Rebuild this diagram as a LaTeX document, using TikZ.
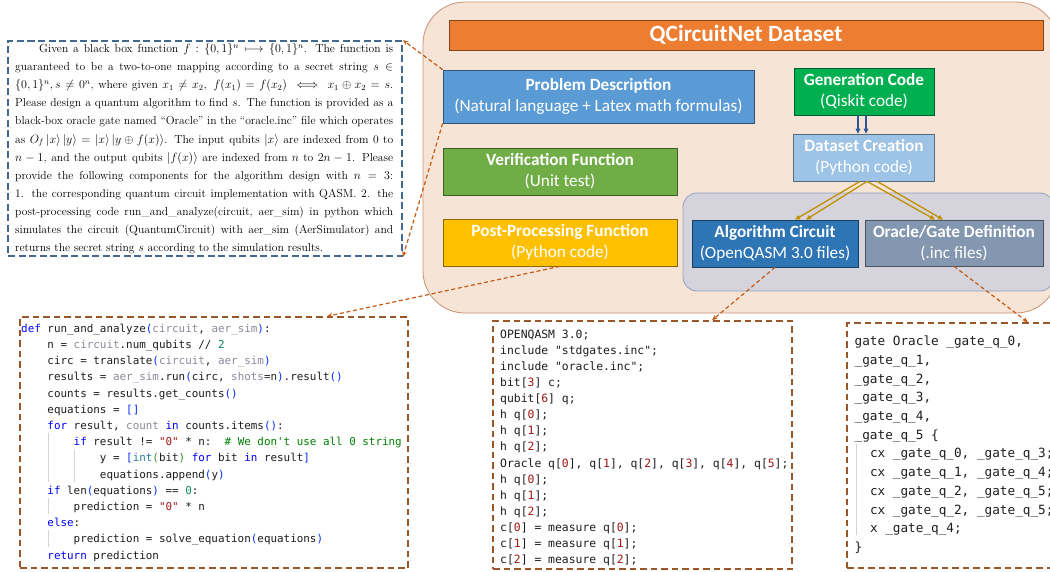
\documentclass[tikz,border=0pt]{standalone}
\usepackage{fontspec}
\setmonofont{DejaVu Sans Mono}
\newfontfamily\boxfont{Carlito}
\usetikzlibrary{arrows.meta,calc}
\definecolor{peach}{HTML}{F6E4D6}
\definecolor{peachline}{HTML}{C79272}
\definecolor{graypanel}{HTML}{D5D3DC}
\definecolor{graypanelline}{HTML}{8EA3C2}
\definecolor{titleor}{HTML}{ED7D31}
\definecolor{pdblue}{HTML}{5B9BD5}
\definecolor{vfgreen}{HTML}{70AD47}
\definecolor{ppyellow}{HTML}{FFC000}
\definecolor{gcgreen}{HTML}{00B050}
\definecolor{dclight}{HTML}{9DC3E6}
\definecolor{acblue}{HTML}{2E75B6}
\definecolor{ogslate}{HTML}{8497B0}
\definecolor{arrblue}{HTML}{2F5597}
\definecolor{arrgold}{HTML}{BF9000}
\definecolor{calloutor}{HTML}{C55A11}
\definecolor{tbblue}{HTML}{44698F}
\definecolor{codebrown}{HTML}{9A5628}
\definecolor{kwblue}{HTML}{0000FF}
\definecolor{pgray}{HTML}{8A8A9A}
\definecolor{numgreen}{HTML}{098658}
\definecolor{strred}{HTML}{A31515}
\definecolor{comgreen}{HTML}{008000}
\definecolor{brblue}{HTML}{0431FA}
\definecolor{brgreen}{HTML}{319331}
\definecolor{typeteal}{HTML}{267F99}
\definecolor{qred}{HTML}{A31515}
\definecolor{guide}{HTML}{D4D4D4}
\definecolor{codetext}{HTML}{1E1E1E}
\newcommand{\kw}[1]{\textcolor{kwblue}{#1}}
\newcommand{\pa}[1]{\textcolor{pgray}{#1}}
\newcommand{\nm}[1]{\textcolor{numgreen}{#1}}
\newcommand{\cstr}[1]{\textcolor{strred}{#1}}
\newcommand{\ccom}[1]{\textcolor{comgreen}{#1}}
\newcommand{\cbr}[1]{\textcolor{brblue}{#1}}
\newcommand{\cbg}[1]{\textcolor{brgreen}{#1}}
\newcommand{\ctype}[1]{\textcolor{typeteal}{#1}}
\newcommand{\qn}[1]{\textcolor{qred}{#1}}
\newcommand{\myind}[1]{\hspace*{#1\fontcharwd\font`x\relax}}
\newcommand{\pline}[1]{\makebox[378pt][s]{#1}}
\tikzset{
  panel/.style={draw=peachline, fill=peach, line width=0.8pt, rounded corners=42pt, inner sep=0pt},
  innerpanel/.style={draw=graypanelline, fill=graypanel, line width=0.8pt, rounded corners=14pt, inner sep=0pt},
  dbox/.style={draw=#1!55!black, fill=#1, line width=0.7pt, text=white, align=center, inner sep=0pt,
    font=\boxfont\fontsize{17.2}{21}\selectfont},
  titlebar/.style={draw=titleor!55!black, fill=titleor, line width=0.7pt, text=white, inner sep=0pt,
    minimum width=594pt, minimum height=30pt, font=\boxfont\bfseries\fontsize{23.3}{28}\selectfont},
  textframe/.style={draw=tbblue, dash pattern=on 7pt off 3.5pt, line width=1.8pt, inner sep=0pt},
  codeframe/.style={draw=codebrown, dash pattern=on 6.5pt off 4pt, line width=1.4pt, inner sep=0pt},
  callout/.style={draw=calloutor, dash pattern=on 4pt off 2.7pt, line width=1.2pt, -{Stealth[length=5.5pt,width=4.5pt]}},
  bluearr/.style={draw=arrblue, line width=1.3pt, -{Triangle[length=5pt,width=4.5pt]}},
  goldarr/.style={draw=arrgold, line width=1.3pt, -{Triangle[length=5pt,width=4.5pt]}},
  guideline/.style={draw=guide, line width=0.8pt},
  codetxt/.style={anchor=north west, inner sep=0pt, align=left, text=codetext}
}
\begin{document}
\begin{tikzpicture}[x=1pt,y=-1pt]
\useasboundingbox (0,0) rectangle (1050,571);
\fill[white] (0,0) rectangle (1050,571);

% dataset panel
\node[panel, minimum width=635pt, minimum height=311pt] (ds) at (740.5,157.5) {};
\node[innerpanel, minimum width=371pt, minimum height=98pt] (gp) at (868.5,242) {};
\node[titlebar] (title) at (746,35) {QCircuitNet Dataset};
\node[dbox=pdblue, minimum width=311pt, minimum height=53pt] (pd) at (598.5,96.5)
  {\textbf{Problem Description}\\(Natural language + Latex math formulas)};
\node[dbox=vfgreen, minimum width=234pt, minimum height=47pt] (vf) at (560,171.5)
  {\textbf{Verification Function}\\(Unit test)};
\node[dbox=ppyellow, minimum width=234pt, minimum height=47pt] (pp) at (560,242.5)
  {\textbf{Post-Processing Function}\\(Python code)};
\node[dbox=gcgreen, minimum width=140pt, minimum height=47pt] (gc) at (864,91.5)
  {\textbf{Generation Code}\\(Qiskit code)};
\node[dbox=dclight, minimum width=141pt, minimum height=47pt] (dc) at (864,157.5)
  {\textbf{Dataset Creation}\\(Python code)};
\node[dbox=acblue, minimum width=166pt, minimum height=47pt] (ac) at (775,243.5)
  {\textbf{Algorithm Circuit}\\(OpenQASM 3.0 files)};
\node[dbox=ogslate, minimum width=178pt, minimum height=46pt] (og) at (954,243)
  {\textbf{Oracle/Gate Definition}\\(.inc files)};

\draw[bluearr] ([xshift=-6pt]gc.south) -- ([xshift=-6pt]dc.north);
\draw[bluearr] ([xshift=2pt]gc.south) -- ([xshift=2pt]dc.north);
\draw[goldarr] ([xshift=-4pt]dc.south) -- ([xshift=20pt]ac.north);
\draw[goldarr] ([xshift=3pt]dc.south) -- ([xshift=31pt]ac.north);
\draw[goldarr] ([xshift=3pt]dc.south) -- ([xshift=-19pt]og.north);
\draw[goldarr] ([xshift=13pt]dc.south) -- ([xshift=-11pt]og.north);

% problem text
\node[textframe, minimum width=394pt, minimum height=215pt] (tb) at (205,148.5) {};
\node[anchor=north west, inner sep=0pt, align=left, font=\fontsize{11.6}{18.12}\selectfont] (tbtext) at (15,42.3) {%
\rule{0pt}{10pt}\pline{\hspace*{24pt}Given a black box function $f:\{0,1\}^n\longmapsto\{0,1\}^n$. The function is}\\
\pline{guaranteed to be a two-to-one mapping according to a secret string $s\in$}\\
\pline{$\{0,1\}^n, s\neq 0^n$, where given $x_1\neq x_2,\ f(x_1)=f(x_2)\iff x_1\oplus x_2=s$.}\\
\pline{Please design a quantum algorithm to find $s$. The function is provided as a}\\
\pline{black-box oracle gate named ``Oracle'' in the ``oracle.inc'' file which operates}\\
\pline{as $O_f\,|x\rangle\,|y\rangle=|x\rangle\,|y\oplus f(x)\rangle$. The input qubits $|x\rangle$ are indexed from 0 to}\\
\pline{$n-1$, and the output qubits $|f(x)\rangle$ are indexed from $n$ to $2n-1$. Please}\\
\pline{provide the following components for the algorithm design with $n=3$:}\\
\pline{1. the corresponding quantum circuit implementation with QASM. 2. the}\\
\pline{post-processing code run\_and\_analyze(circuit, aer\_sim) in python which}\\
\pline{simulates the circuit (QuantumCircuit) with aer\_sim (AerSimulator) and}\\
returns the secret string $s$ according to the simulation results.};

% python code
\node[codeframe, minimum width=388pt, minimum height=251pt] (py) at (214,442.5) {};
\draw[guideline] (48,433) -- (48,482);
\draw[guideline] (74,450) -- (74,482);
\draw[guideline] (48,498) -- (48,514);
\draw[guideline] (48,530) -- (48,547);
\node[codetxt, font=\ttfamily\fontsize{10.9}{16.2}\selectfont] (pytext) at (21,322) {%
\rule{0pt}{10pt}\kw{def} run\_and\_analyze\cbr{(}\pa{circuit}, \pa{aer\_sim}\cbr{)}:\\
\myind{4}n = \pa{circuit}.num\_qubits // \nm{2}\\
\myind{4}circ = translate\cbr{(}\pa{circuit}, \pa{aer\_sim}\cbr{)}\\
\myind{4}results = \pa{aer\_sim}.run\cbr{(}circ, \pa{shots}=n\cbr{)}.result\cbr{()}\\
\myind{4}counts = results.get\_counts\cbr{()}\\
\myind{4}equations = \cbr{[]}\\
\myind{4}\kw{for} result, \pa{count} \kw{in} counts.items\cbr{()}:\\
\myind{8}\kw{if} result != \cstr{"0"} * n:\myind{2}\ccom{\# We don't use all 0 string}\\
\myind{12}y = \cbr{[}\ctype{int}\cbg{(}bit\cbg{)} \kw{for} bit \kw{in} result\cbr{]}\\
\myind{12}equations.append\cbr{(}y\cbr{)}\\
\myind{4}\kw{if} len\cbr{(}equations\cbr{)} == \nm{0}:\\
\myind{8}prediction = \cstr{"0"} * n\\
\myind{4}\kw{else}:\\
\myind{8}prediction = solve\_equation\cbr{(}equations\cbr{)}\\
\myind{4}\kw{return} prediction};

% qasm code
\node[codeframe, minimum width=299pt, minimum height=248pt] (qasm) at (642.5,445) {};
\node[codetxt, font=\ttfamily\fontsize{11.4}{16.07}\selectfont] (qasmtext) at (500,328.3) {%
\rule{0pt}{10pt}OPENQASM 3.0;\\
include "stdgates.inc";\\
include "oracle.inc";\\
bit[\qn{3}] c;\\
qubit[\qn{6}] q;\\
h q[\qn{0}];\\
h q[\qn{1}];\\
h q[\qn{2}];\\
Oracle q[\qn{0}], q[\qn{1}], q[\qn{2}], q[\qn{3}], q[\qn{4}], q[\qn{5}];\\
h q[\qn{0}];\\
h q[\qn{1}];\\
h q[\qn{2}];\\
c[\qn{0}] = measure q[\qn{0}];\\
c[\qn{1}] = measure q[\qn{1}];\\
c[\qn{2}] = measure q[\qn{2}];};

% gate code
\node[codeframe, minimum width=215pt, minimum height=245pt] (gate) at (954.5,445.5) {};
\draw[guideline] (856,444) -- (856,535);
\node[codetxt, font=\ttfamily\fontsize{12.7}{18.7}\selectfont] (gatetext) at (854.5,334.5) {%
\rule{0pt}{11pt}gate Oracle \_gate\_q\_0,\\
\_gate\_q\_1,\\
\_gate\_q\_2,\\
\_gate\_q\_3,\\
\_gate\_q\_4,\\
\_gate\_q\_5 \{\\
\myind{2}cx \_gate\_q\_0, \_gate\_q\_3;\\
\myind{2}cx \_gate\_q\_1, \_gate\_q\_4;\\
\myind{2}cx \_gate\_q\_2, \_gate\_q\_5;\\
\myind{2}cx \_gate\_q\_2, \_gate\_q\_5;\\
\myind{2}x \_gate\_q\_4;\\
\}};

% callouts
\coordinate (pyin) at ($(py.north)+(113,0)$);
\coordinate (qasmin) at ($(qasm.north)+(69.5,0)$);
\coordinate (gatein) at ($(gate.north)+(73.5,0)$);
\draw[callout] (pd.north west) -- (tb.north east);
\draw[callout] (pd.south west) -- (tb.south east);
\draw[callout] (pp.south) -- (pyin);
\draw[callout] (ac.south) -- (qasmin);
\draw[callout] (og.south) -- (gatein);
\end{tikzpicture}
\end{document}
